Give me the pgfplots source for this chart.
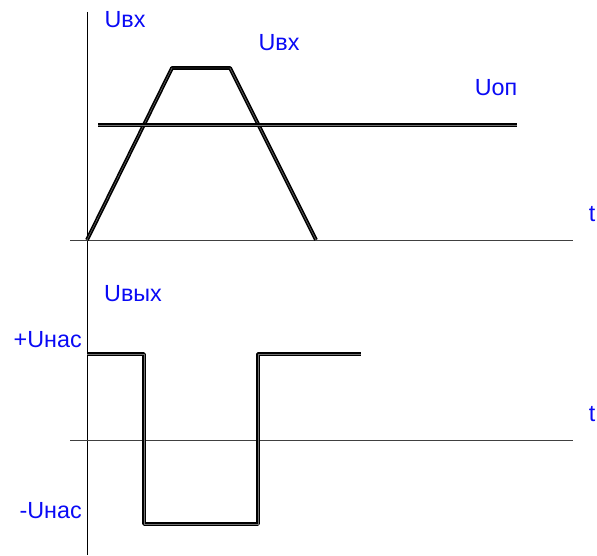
\documentclass[border=0pt]{standalone}
\usepackage{fontspec}
\setmainfont{Liberation Sans}
\usepackage{pgfplots}
\pgfplotsset{compat=1.18}
\definecolor{lbl}{RGB}{10,10,245}
\begin{document}
\begin{tikzpicture}[
    lab/.style={font=\fontsize{17.5}{20}\selectfont, text=lbl, inner sep=0pt},
]
\begin{axis}[
    width=447.75pt, height=416.25pt, scale only axis,
    xmin=0, xmax=597, ymin=0, ymax=555, y dir=reverse,
    axis lines=none, clip=false,
    sig/.style={black, mark=none, line width=1.25pt, double=black!55, double distance=0.35pt, line join=round},
    ax/.style={mark=none, line width=0.6pt},
]
\path (axis cs:0,0) rectangle (axis cs:597,555);
% axes
\addplot[ax, black] coordinates {(87,12) (87,555)};
\addplot[ax, black!75] coordinates {(70,240) (573,240)};
\addplot[ax, black!75] coordinates {(70,440) (573,440)};
% input trapezoid and reference level
\addplot[sig] coordinates {(87,240) (172,68) (230,68) (316,240)};
\addplot[sig] coordinates {(98,125) (517,125)};
% comparator output
\addplot[sig] coordinates {(87,354) (144,354) (144,524) (258,524) (258,354) (361,354)};
% labels
\node[lab] at (axis cs:125,20) {Uвх};
\node[lab] at (axis cs:279,43) {Uвх};
\node[lab] at (axis cs:496,88) {Uоп};
\node[lab] at (axis cs:592,214) {t};
\node[lab] at (axis cs:592,414) {t};
\node[lab] at (axis cs:133,294) {Uвых};
\node[lab, anchor=east] at (axis cs:82,340) {+Uнас};
\node[lab, anchor=east] at (axis cs:82,511) {-Uнас};
\end{axis}
\end{tikzpicture}
\end{document}
